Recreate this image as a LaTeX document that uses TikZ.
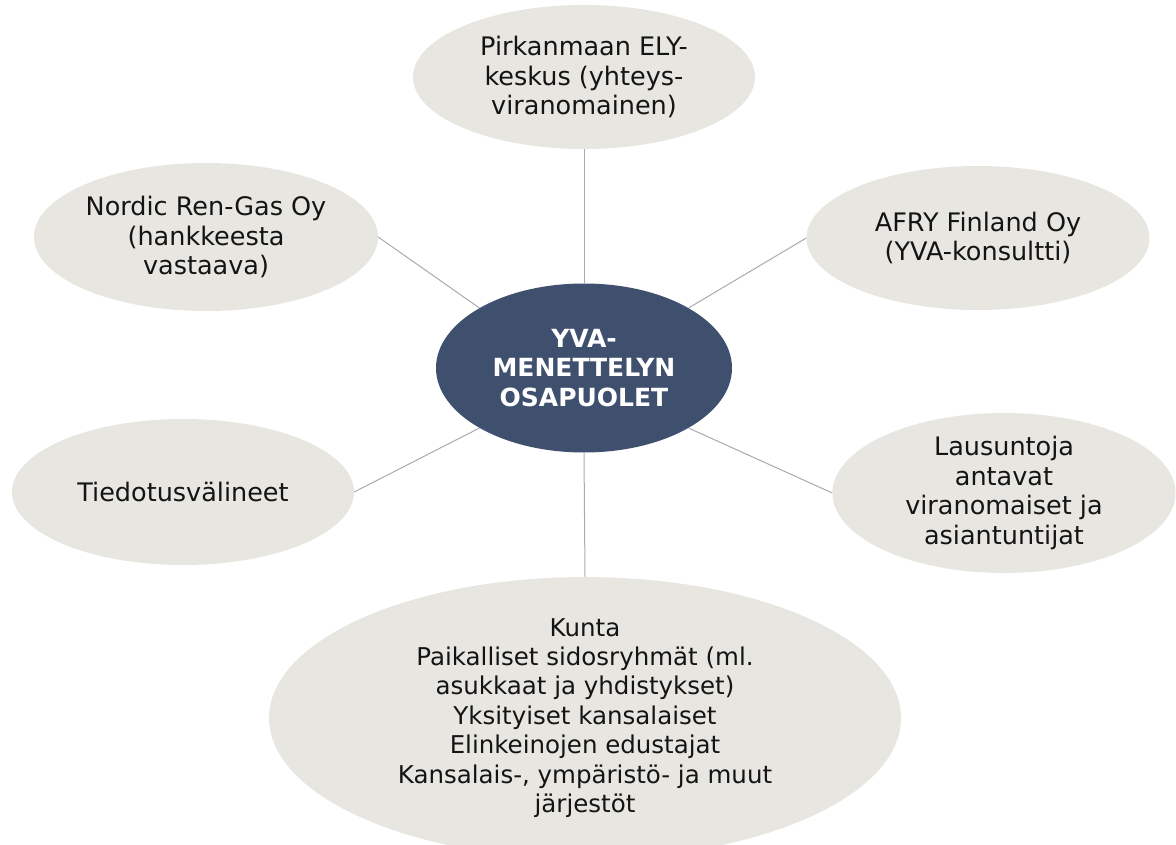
\documentclass[tikz,border=0pt]{standalone}
\usepackage{fontspec}
\setmainfont{DejaVu Sans}
\usetikzlibrary{shapes.geometric,calc}
\definecolor{bubble}{RGB}{231,230,224}
\definecolor{hub}{RGB}{63,79,110}
\definecolor{linkgray}{RGB}{170,170,170}
\definecolor{txt}{RGB}{20,20,20}
\tikzset{
  bubble/.style={ellipse, fill=bubble, draw=none, inner sep=0pt, align=center,
    text=txt, font=\fontsize{25.5}{29.5}\selectfont},
  hubnode/.style={ellipse, fill=hub, draw=none, inner sep=0pt, align=center,
    text=white, font=\fontsize{25}{29.5}\selectfont\bfseries},
  link/.style={draw=linkgray, line width=1pt}
}
\begin{document}
\begin{tikzpicture}[x=1pt,y=-1pt]
\useasboundingbox (0,0) rectangle (1176,845);
\clip (0,0) rectangle (1176,845);
\node[hubnode, minimum width=296pt, minimum height=169pt] (c) at (584,368) {YVA-\\MENETTELYN\\OSAPUOLET};
\node[bubble, minimum width=342pt, minimum height=144pt] (top) at (584,77) {Pirkanmaan ELY-\\keskus (yhteys-\\viranomainen)};
\node[bubble, minimum width=344pt, minimum height=148pt] (tl) at (206,237) {Nordic Ren-Gas Oy\\(hankkeesta\\vastaava)};
\node[bubble, minimum width=343pt, minimum height=144pt] (tr) at (978,238) {AFRY Finland Oy\\(YVA-konsultti)};
\node[bubble, minimum width=342pt, minimum height=146pt] (ml) at (183,492) {Tiedotusvälineet};
\node[bubble, minimum width=343pt, minimum height=142pt] (mr) at (1004,493) {Lausuntoja\\antavat\\viranomaiset ja\\asiantuntijat};
\node[bubble, minimum width=632pt, minimum height=278pt, font=\fontsize{24.5}{29.4}\selectfont] (b) at (585,718) {Kunta\\Paikalliset sidosryhmät (ml.\\asukkaat ja yhdistykset)\\Yksityiset kansalaiset\\Elinkeinojen edustajat\\Kansalais-, ympäristö- ja muut\\järjestöt};
\coordinate (c-nw) at ($(c.center)+(-104.7,-60.1)$);
\coordinate (c-ne) at ($(c.center)+(104.7,-60.1)$);
\coordinate (c-sw) at ($(c.center)+(-104.7,60.1)$);
\coordinate (c-se) at ($(c.center)+(104.7,60.1)$);
\draw[link] (top.south) -- (c.north);
\draw[link] (tl.east) -- (c-nw);
\draw[link] (tr.west) -- (c-ne);
\draw[link] (ml.east) -- (c-sw);
\draw[link] (mr.west) -- (c-se);
\draw[link] (c.south) -- (b.north);
\end{tikzpicture}
\end{document}
